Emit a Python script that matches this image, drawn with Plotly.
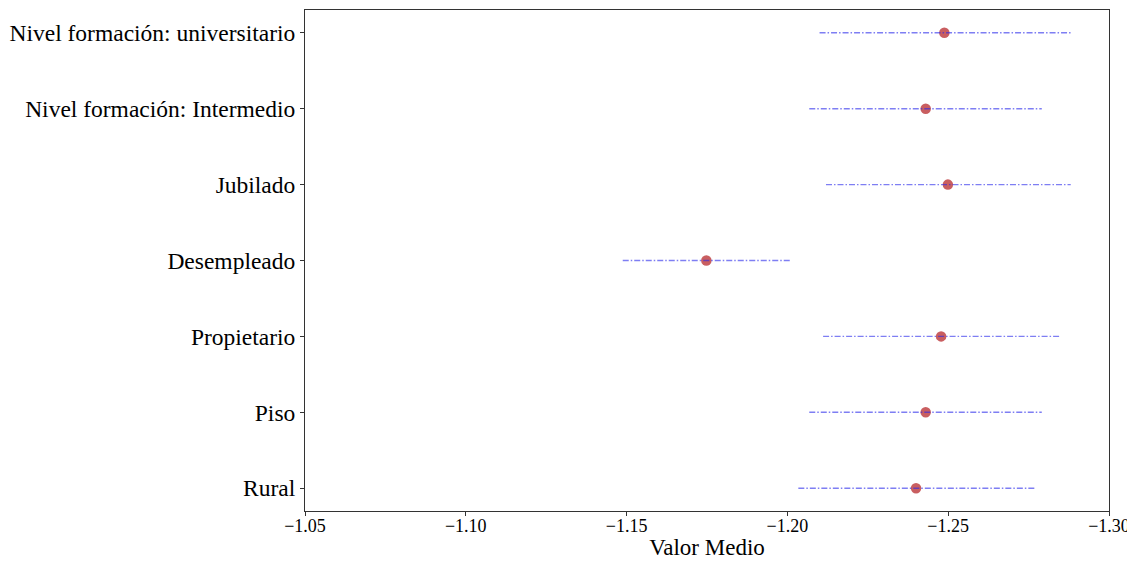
import plotly.graph_objects as go

categories = ["Rural", "Piso", "Propietario", "Desempleado", "Jubilado",
              "Nivel formación: Intermedio", "Nivel formación: universitario"]
mean_values = [-1.2400, -1.2430, -1.2478, -1.1748, -1.2499, -1.2430, -1.2488]
lower_bounds = [-1.2034, -1.2068, -1.2111, -1.1488, -1.2120, -1.2068, -1.2100]
upper_bounds = [-1.2774, -1.2791, -1.2851, -1.2010, -1.2881, -1.2791, -1.2881]
x_ticks = [-1.05, -1.10, -1.15, -1.20, -1.25, -1.30]
x_tick_labels = ["−1.05", "−1.10", "−1.15", "−1.20", "−1.25", "−1.30"]

FONT = "Liberation Serif, Times New Roman, serif"

fig = go.Figure()

fig.add_trace(go.Scatter(
    x=mean_values, y=categories, mode="markers",
    marker=dict(color="rgba(192,66,68,0.85)", size=10.5, line=dict(width=0)),
    showlegend=False, hoverinfo="x+y"))

seg_x, seg_y = [], []
for c, lo, hi in zip(categories, lower_bounds, upper_bounds):
    seg_x += [lo, hi, None]
    seg_y += [c, c, None]
fig.add_trace(go.Scatter(
    x=seg_x, y=seg_y, mode="lines",
    line=dict(color="rgba(40,40,235,0.6)", width=1.4, dash="6px,2px,1.5px,2px"),
    showlegend=False, hoverinfo="skip"))

# page body has an 8px margin, so the figure is sized to fit the window
fig.update_layout(
    width=1127, height=553,
    margin=dict(l=294, r=26, t=1, b=50),
    paper_bgcolor="white", plot_bgcolor="white",
    font=dict(family=FONT, color="black"),
    xaxis=dict(
        range=[-1.05, -1.30], tickvals=x_ticks, ticktext=x_tick_labels,
        ticks="outside", ticklen=4, tickwidth=1, tickcolor="#333",
        tickfont=dict(size=18, family=FONT), ticklabelstandoff=-6,
        showline=True, linecolor="#333", linewidth=1, mirror=True,
        showgrid=False, zeroline=False,
        title=dict(text="Valor Medio", font=dict(size=23, family=FONT), standoff=4),
    ),
    yaxis=dict(
        type="category", categoryorder="array", categoryarray=categories,
        range=[-0.3, 6.3],
        ticks="outside", ticklen=4, tickwidth=1, tickcolor="#333",
        tickfont=dict(size=23.5, family=FONT),
        showline=True, linecolor="#333", linewidth=1, mirror=True,
        showgrid=False, zeroline=False,
    ),
)

fig.write_html("out.html")
